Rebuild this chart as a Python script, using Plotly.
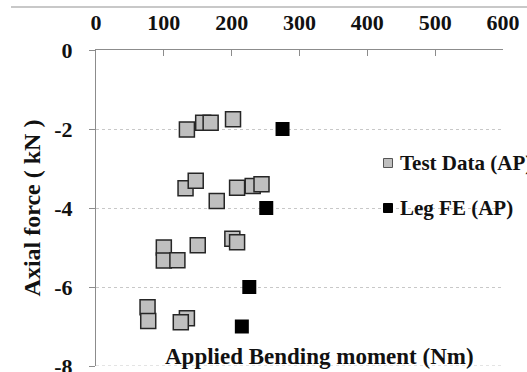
import plotly.graph_objects as go

# Data
test_x = [134, 158, 169, 202, 132, 147, 178, 208, 231, 244,
          100, 100, 120, 150, 201, 208, 76, 77, 134, 125]
test_y = [-2.01, -1.84, -1.84, -1.75, -3.50, -3.31, -3.82, -3.49, -3.44, -3.40,
          -5.00, -5.33, -5.32, -4.94, -4.78, -4.87, -6.51, -6.86, -6.79, -6.89]
fe_x = [275, 251, 226, 215]
fe_y = [-2.0, -4.0, -6.0, -7.0]

x_ticks = [0, 100, 200, 300, 400, 500, 600]
y_ticks = [0, -2, -4, -6, -8]

series_names = ["Test Data (AP)", "Leg FE (AP)"]
x_title = "Applied Bending moment (Nm)"
y_title = "Axial force ( kN )"

FONT = "Liberation Serif"
GRAY = "#bfbfbf"
EDGE = "#262626"

W, H = 527, 372
L, R, T, B = 96, 24, 50, 6

fig = go.Figure()
fig.add_trace(go.Scatter(
    x=test_x, y=test_y, mode="markers", name=series_names[0], showlegend=False,
    marker=dict(symbol="square", size=15, color=GRAY, line=dict(color=EDGE, width=1.5)),
))
fig.add_trace(go.Scatter(
    x=fe_x, y=fe_y, mode="markers", name=series_names[1], showlegend=False,
    marker=dict(symbol="square", size=14, color="#000000", line=dict(color="#000000", width=0)),
))

pw = W - L - R
ph = H - T - B

def px_x(p):
    return (p - L) / pw

def px_y(p):
    return (H - B - p) / ph

# legend drawn manually (marker + text)
leg_items = [(series_names[0], GRAY, "#555555", 163), (series_names[1], "#000000", "#000000", 208)]
for name, fill, edge, yc in leg_items:
    s = 4.5
    fig.add_shape(type="rect", xref="paper", yref="paper",
                  x0=px_x(388 - s), x1=px_x(388 + s), y0=px_y(yc + s), y1=px_y(yc - s),
                  fillcolor=fill, line=dict(color=edge, width=1))
    fig.add_annotation(text=f"<b>{name}</b>", xref="paper", yref="paper",
                       x=px_x(398), y=px_y(yc), xanchor="left", yanchor="middle",
                       showarrow=False, font=dict(family=FONT, size=21, color="#111111"))

# x-axis title inside plot near bottom
fig.add_annotation(text=f"<b>{x_title}</b>", xref="paper", yref="paper",
                   x=px_x(319), y=px_y(356), xanchor="center", yanchor="middle",
                   showarrow=False, font=dict(family=FONT, size=23, color="#111111"))

# thin gray rule at the top of the image
fig.add_shape(type="line", xref="paper", yref="paper",
              x0=px_x(11), x1=px_x(527), y0=px_y(7), y1=px_y(7),
              line=dict(color="#c8c8c8", width=2))

# dotted grid line at the bottom edge (-8), hidden by plotly at the axis boundary
fig.add_shape(type="line", xref="paper", yref="y",
              x0=0, x1=1, y0=y_ticks[-1], y1=y_ticks[-1],
              line=dict(color="#c8c8c8", width=1, dash="dot"))

fig.update_layout(
    width=W, height=H,
    margin=dict(l=L, r=R, t=T, b=B, autoexpand=False),
    paper_bgcolor="white", plot_bgcolor="white",
    font=dict(family=FONT, color="#111111"),
    showlegend=False,
)
fig.update_xaxes(
    range=[0, 600], side="top", tickvals=x_ticks,
    ticktext=[f"<b>{v}</b>" for v in x_ticks],
    tickfont=dict(family=FONT, size=22, color="#111111"),
    showline=True, linecolor="#8c8c8c", linewidth=1,
    ticks="inside", ticklen=6, tickcolor="#8c8c8c",
    showgrid=False, zeroline=False, ticklabelstandoff=10,
    ticklabeloverflow="allow",
)
fig.update_yaxes(
    range=[-8, 0], tickvals=y_ticks,
    ticktext=[f"<b>{v}</b>" for v in y_ticks],
    tickfont=dict(family=FONT, size=22, color="#111111"),
    showline=True, linecolor="#8c8c8c", linewidth=1,
    ticks="outside", ticklen=6, tickcolor="#8c8c8c",
    showgrid=True, gridcolor="#c8c8c8", griddash="dot", gridwidth=1,
    zeroline=False, ticklabelstandoff=12, ticklabeloverflow="allow",
    title=dict(text=f"<b>{y_title}</b>", font=dict(family=FONT, size=24, color="#111111"), standoff=6),
)

fig.write_html("out.html")
